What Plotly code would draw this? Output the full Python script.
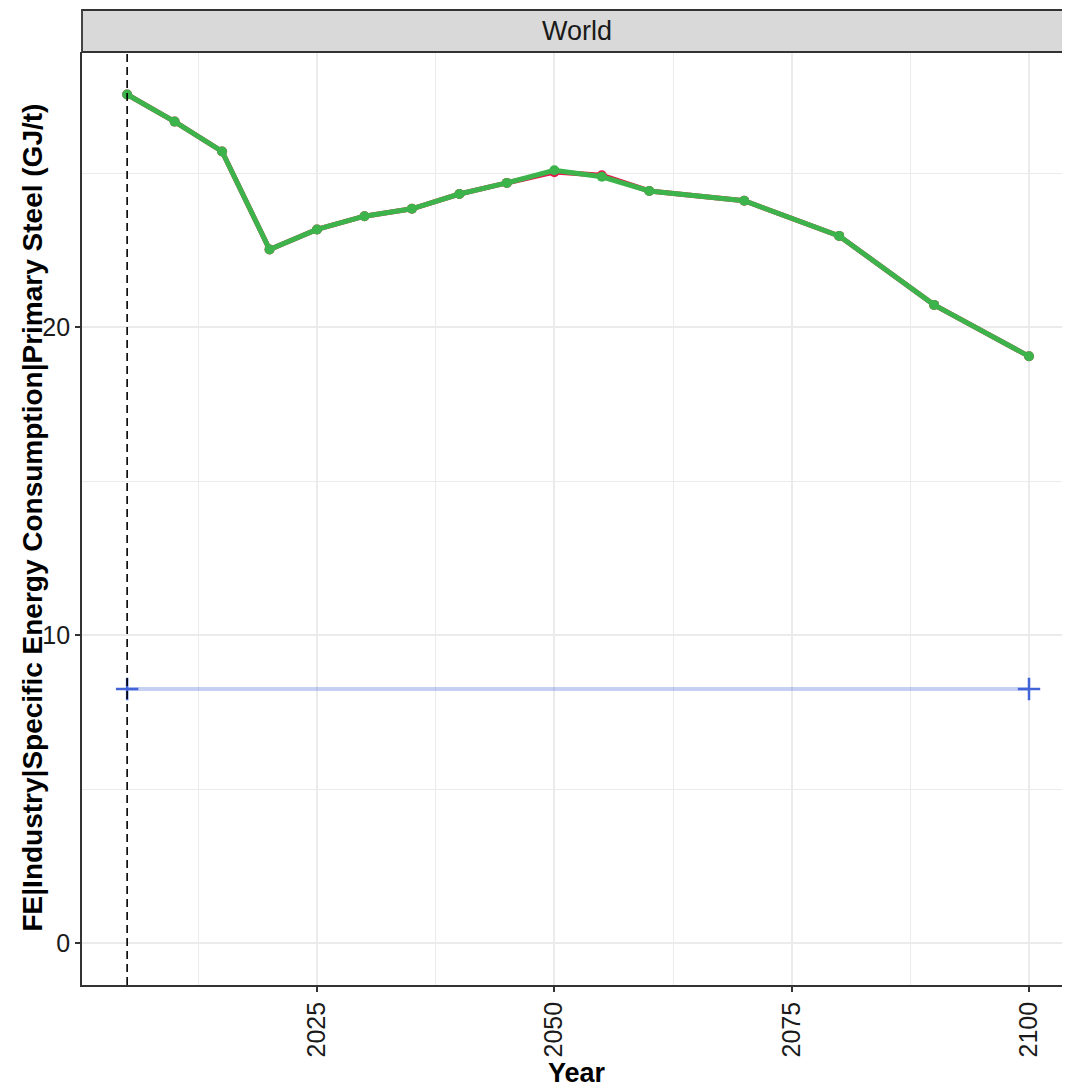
import plotly.graph_objects as go

years = [2005, 2010, 2015, 2020, 2025, 2030, 2035, 2040, 2045, 2050, 2055, 2060, 2070, 2080, 2090, 2100]
series_red = [27.55, 26.67, 25.70, 22.52, 23.17, 23.60, 23.84, 24.32, 24.68, 25.03, 24.93, 24.42, 24.10, 22.96, 20.72, 19.05]
series_green = [27.55, 26.67, 25.70, 22.52, 23.17, 23.60, 23.84, 24.32, 24.68, 25.09, 24.88, 24.42, 24.10, 22.96, 20.72, 19.05]
target_years = [2005, 2100]
target_values = [8.25, 8.25]
ref_year = 2005
x_ticks = [2025, 2050, 2075, 2100]
x_minor = [2012.5, 2037.5, 2062.5, 2087.5]
y_ticks = [0, 10, 20]
y_minor = [5, 15, 25]
facet_label = "World"
x_title = "Year"
y_title = "FE|Industry|Specific Energy Consumption|Primary Steel (GJ/t)"

FONT = "Liberation Sans, Arial, Helvetica, sans-serif"
OFF = 8  # page body margin
# panel position in page pixels (panel runs past the right edge of the window)
PL, PR, PT, PB = 82, 1078, 52, 985
W = PR - OFF
H = 1089 - OFF
ML, MR, MT, MB = PL - OFF, 0, PT - OFF, H - (PB - OFF)
PH = PB - PT
PW = PR - PL
X_RANGE = [2000.245, 2105.16]

fig = go.Figure()

fig.add_trace(go.Scatter(
    x=target_years, y=target_values, mode="lines",
    line=dict(color="rgba(67,99,216,0.3)", width=4),
    showlegend=False, hoverinfo="skip"))
fig.add_trace(go.Scatter(
    x=target_years, y=target_values, mode="markers",
    marker=dict(symbol="cross-thin", size=16, line=dict(color="#4363d8", width=2.5)),
    showlegend=False))
fig.add_trace(go.Scatter(
    x=years, y=series_red, mode="lines+markers",
    line=dict(color="#e6194B", width=5), marker=dict(color="#e6194B", size=10),
    showlegend=False))
fig.add_trace(go.Scatter(
    x=years, y=series_green, mode="lines+markers",
    line=dict(color="#3cb44b", width=5), marker=dict(color="#3cb44b", size=10),
    showlegend=False))

# dashed reference line
fig.add_shape(type="line", xref="x", yref="paper", x0=ref_year, x1=ref_year, y0=0, y1=1,
              line=dict(color="black", width=1.6, dash="8px,5px"), layer="above")

# facet strip
fig.add_shape(type="rect", xref="paper", yref="paper", x0=0, x1=1.02,
              y0=1, y1=1 + 42 / PH, fillcolor="#D9D9D9",
              line=dict(color="#333333", width=1.8), layer="above")
fig.add_annotation(xref="paper", yref="paper", x=(577 - PL) / PW, y=1 + 21 / PH,
                   text=facet_label, showarrow=False, xanchor="center", yanchor="middle",
                   font=dict(family=FONT, size=27, color="#1A1A1A"))

# axis titles
fig.add_annotation(xref="paper", yref="paper", x=(577 - PL) / PW, y=-(1073 - PB) / PH,
                   text="<b>" + x_title + "</b>", showarrow=False, xanchor="center", yanchor="middle",
                   font=dict(family=FONT, size=27, color="black"))
fig.add_annotation(xref="paper", yref="paper", x=(32 - PL) / PW, y=(PB - 517.5) / PH,
                   text="<b>" + y_title + "</b>", showarrow=False, textangle=-90,
                   xanchor="center", yanchor="middle",
                   font=dict(family=FONT, size=28, color="black"))

fig.update_layout(
    width=W, height=H,
    margin=dict(l=ML, r=MR, t=MT, b=MB, autoexpand=False),
    plot_bgcolor="white", paper_bgcolor="white",
    font=dict(family=FONT, color="#1A1A1A"),
    showlegend=False,
    xaxis=dict(
        range=X_RANGE, tickmode="array", tickvals=x_ticks,
        ticktext=[str(v) for v in x_ticks], tickangle=-90,
        ticks="outside", ticklen=5, tickwidth=1.5, tickcolor="#333333",
        tickfont=dict(size=25, color="#1A1A1A", family=FONT),
        showgrid=True, gridcolor="#EBEBEB", gridwidth=2,
        minor=dict(tickmode="array", tickvals=x_minor, showgrid=True,
                   gridcolor="#EBEBEB", gridwidth=1, ticks=""),
        showline=True, linecolor="#333333", linewidth=1.8, mirror=False,
        zeroline=False, automargin=False),
    yaxis=dict(
        range=[-1.36, 28.93], tickmode="array", tickvals=y_ticks,
        ticktext=[str(v) for v in y_ticks],
        ticks="outside", ticklen=5, tickwidth=1.5, tickcolor="#333333",
        tickfont=dict(size=25, color="#1A1A1A", family=FONT),
        showgrid=True, gridcolor="#EBEBEB", gridwidth=2,
        minor=dict(tickmode="array", tickvals=y_minor, showgrid=True,
                   gridcolor="#EBEBEB", gridwidth=1, ticks=""),
        showline=True, linecolor="#333333", linewidth=1.8, mirror=False,
        zeroline=False, automargin=False),
)

fig.write_html("out.html")
